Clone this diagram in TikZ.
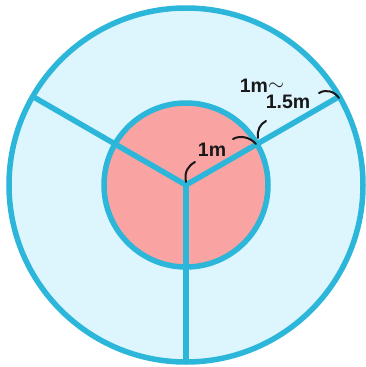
\documentclass[tikz,border=0pt]{standalone}
\usepackage{fontspec}
\setmainfont{Liberation Sans}
\usetikzlibrary{positioning, calc}
\definecolor{ringblue}{HTML}{2BB6DA}
\definecolor{paleblue}{HTML}{DDF5FD}
\definecolor{pinkfill}{HTML}{F9A3A3}
\tikzset{
  wall/.style = {draw=ringblue, line width=5.5pt},
  hook/.style = {draw=black!90, line width=2pt, line cap=round},
  lbl/.style  = {font=\fontsize{19.5}{19.5}\selectfont\bfseries, inner sep=0pt, text=black!90}
}

\begin{document}
\begin{tikzpicture}[x=1pt, y=-1pt]
\useasboundingbox (0,0) rectangle (366,367);

% centre and spoke ends
\coordinate (c) at (186,185);
\coordinate (o1) at ($(c)+({177*cos(30)},{-177*sin(30)})$);
\coordinate (o2) at ($(c)+({-177*cos(30)},{-177*sin(30)})$);
\coordinate (o3) at ($(c)+(0,177)$);

% ----- CIRCLES -----
\fill[paleblue] (c) circle (177);
\fill[pinkfill] (c) circle (82);
\draw[wall] (c) circle (82);
\draw[wall] (c) circle (177);

% ----- SPOKES -----
\draw[wall, line join=miter] (o1) -- (c) -- (o2);
\draw[wall] (c) -- (o3);

% ----- DIMENSION HOOKS -----
\draw[hook] (186,182) .. controls (184,172) and (188,166) .. (195,162);
\draw[hook] (233,139) .. controls (240,135) and (250,137) .. (256,144);
\draw[hook] (258,138) .. controls (257,130) and (260,124) .. (266,121);
\draw[hook] (319,93) .. controls (326,89) and (334,91) .. (339,98);

% ----- LABELS -----
\node[lbl] (r1) at (212,150) {1m};
\node[lbl] (r2) at (262,86) {1m\raisebox{2pt}{$\sim$}};
\node[lbl] (r3) at (288,102) {1.5m};

\end{tikzpicture}
\end{document}
